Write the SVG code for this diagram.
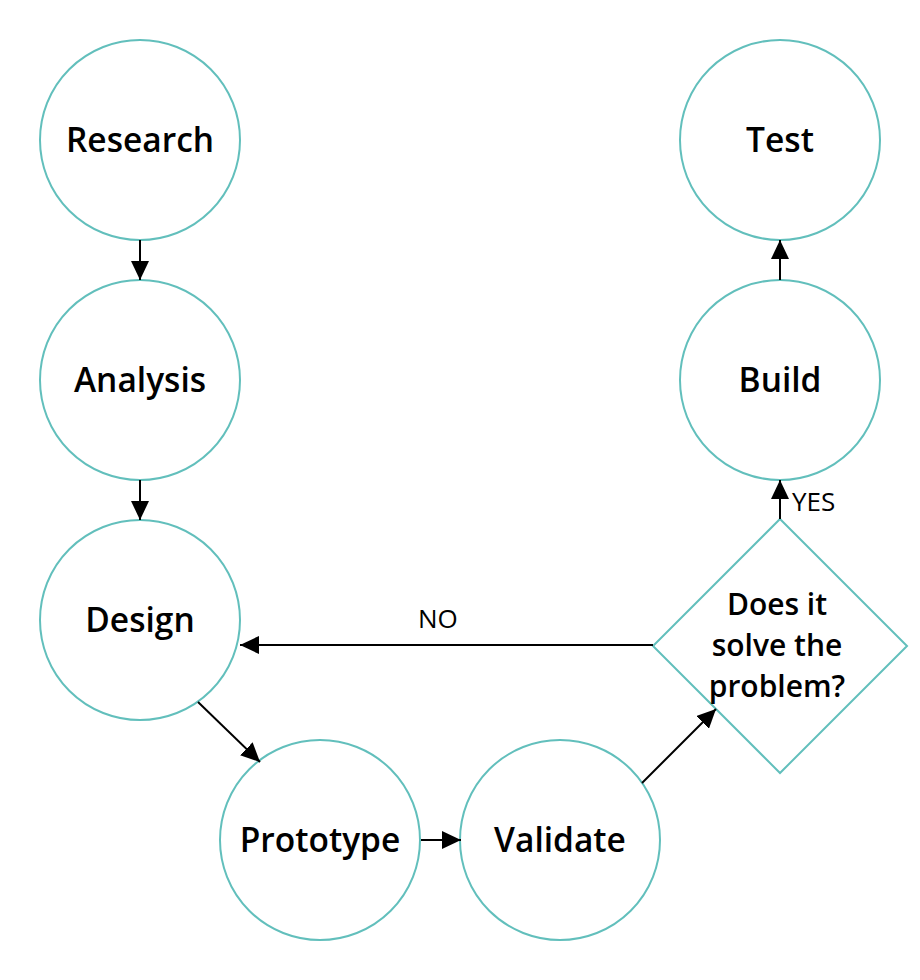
<svg xmlns="http://www.w3.org/2000/svg" width="920" height="980" viewBox="0 0 920 980">
<defs>
<marker id="ah" markerUnits="userSpaceOnUse" markerWidth="19" markerHeight="18" refX="19" refY="9" orient="auto">
<path d="M0,0 L19,9 L0,18 z" fill="#000"/>
</marker>
<style>
.node{fill:#fff;stroke:#62BFBC;stroke-width:2}
.lbl{font-family:"Open Sans","Noto Sans","DejaVu Sans",sans-serif;font-weight:600;font-size:33.5px;fill:#000;text-anchor:middle}
.dl{font-family:"Open Sans","Noto Sans","DejaVu Sans",sans-serif;font-weight:600;font-size:30px;fill:#000;text-anchor:middle}
.el{font-family:"Open Sans","Noto Sans","DejaVu Sans",sans-serif;font-weight:400;font-size:26px;fill:#000}
.cn{stroke:#000;stroke-width:2;fill:none;marker-end:url(#ah)}
</style>
</defs>
<rect width="920" height="980" fill="#fff"/>
<g id="research"><circle class="node" cx="140" cy="140" r="100"/><text class="lbl" x="140" y="152">Research</text></g>
<g id="analysis"><circle class="node" cx="140" cy="380" r="100"/><text class="lbl" x="140" y="392">Analysis</text></g>
<g id="design"><circle class="node" cx="140" cy="620" r="100"/><text class="lbl" x="140" y="632">Design</text></g>
<g id="prototype"><circle class="node" cx="320" cy="840" r="100"/><text class="lbl" x="320" y="852">Prototype</text></g>
<g id="validate"><circle class="node" cx="560" cy="840" r="100"/><text class="lbl" x="560" y="852">Validate</text></g>
<g id="decision"><path class="node" d="M780,519 L907,646 L780,773 L653,646 Z"/>
<text class="dl" x="777" y="615">Does it</text>
<text class="dl" x="777" y="656">solve the</text>
<text class="dl" x="777" y="697">problem?</text></g>
<g id="build"><circle class="node" cx="780" cy="380" r="100"/><text class="lbl" x="780" y="392">Build</text></g>
<g id="test"><circle class="node" cx="780" cy="140" r="100"/><text class="lbl" x="780" y="152">Test</text></g>
<g id="connectors">
<line class="cn" x1="140" y1="240" x2="140" y2="280"/>
<line class="cn" x1="140" y1="480" x2="140" y2="520"/>
<line class="cn" x1="198" y1="702" x2="260" y2="762"/>
<line class="cn" x1="421" y1="840" x2="461" y2="840"/>
<line class="cn" x1="642" y1="783" x2="716" y2="709"/>
<line class="cn" x1="780" y1="519" x2="780" y2="480"/>
<line class="cn" x1="780" y1="280" x2="780" y2="240"/>
<line class="cn" x1="653" y1="645" x2="240" y2="645"/>
<text class="el" x="792" y="511">YES</text>
<text class="el" x="418" y="628">NO</text>
</g>
</svg>
